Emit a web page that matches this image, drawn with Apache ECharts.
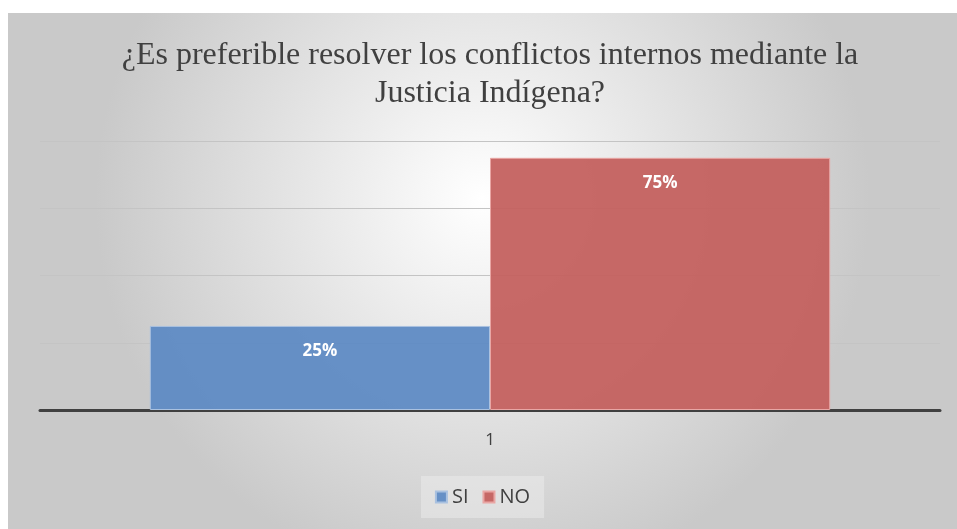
<!DOCTYPE html>
<html>
<head>
<meta charset="utf-8">
<script src="https://cdn.jsdelivr.net/npm/echarts@6/dist/echarts.min.js"></script>
<style>
html,body{margin:0;padding:0;background:#fff;width:957px;height:529px;overflow:hidden;}
#c{position:absolute;left:8px;top:13px;width:949px;height:516px;}
</style>
</head>
<body>
<div id="c"></div>
<script>
var titleText = '¿Es preferible resolver los conflictos internos mediante la\nJusticia Indígena?';
var categories = ['1'];
var seriesNames = ['SI', 'NO'];
var siValues = [25];
var noValues = [75];

var chart = echarts.init(document.getElementById('c'));
var labelFmt = function (p) { return p.value + '%'; };
chart.setOption({
  backgroundColor: {
    type: 'radial', x: 0.5, y: 0.36, r: 0.75,
    colorStops: [{offset: 0, color: '#ffffff'}, {offset: 1, color: '#c9c9c9'}]
  },
  title: {
    text: titleText,
    left: 477, top: 19,
    textAlign: 'center',
    textStyle: {fontFamily: 'Liberation Serif', fontSize: 32, fontWeight: 'normal', color: '#404040', lineHeight: 38}
  },
  legend: {
    data: seriesNames,
    bottom: 11, left: 'center',
    itemWidth: 11, itemHeight: 11, itemGap: 14,
    padding: [11, 14],
    backgroundColor: 'rgba(240,240,240,0.45)',
    textStyle: {fontFamily: 'Open Sans', fontSize: 20, color: '#404040', padding: [0, 0, 0, 0]},
    icon: 'rect'
  },
  grid: {left: 32, right: 17, top: 128, bottom: 119, containLabel: false},
  xAxis: {
    type: 'category', data: categories,
    axisLine: {lineStyle: {color: '#404040', width: 3}},
    axisTick: {show: false},
    axisLabel: {fontFamily: 'Open Sans', fontSize: 17, color: '#404040', margin: 22}
  },
  yAxis: {
    type: 'value', min: 0, max: 80, interval: 20,
    axisLabel: {show: false},
    axisLine: {show: false}, axisTick: {show: false},
    splitLine: {lineStyle: {color: '#c4c4c4', width: 1}}
  },
  series: [
    {
      name: seriesNames[0], type: 'bar', data: siValues,
      barGap: '0%', barCategoryGap: '24.4%',
      itemStyle: {color: 'rgba(94,138,196,0.94)', borderColor: '#a9c1e0', borderWidth: 1},
      label: {show: true, position: 'insideTop', distance: 17, formatter: labelFmt,
        fontFamily: 'Open Sans', fontWeight: 'bold', fontSize: 17, color: '#ffffff'}
    },
    {
      name: seriesNames[1], type: 'bar', data: noValues,
      barGap: '0%', barCategoryGap: '24.4%',
      itemStyle: {color: 'rgba(196,96,94,0.94)', borderColor: '#e9a6a4', borderWidth: 1},
      label: {show: true, position: 'insideTop', distance: 17, formatter: labelFmt,
        fontFamily: 'Open Sans', fontWeight: 'bold', fontSize: 17, color: '#ffffff'}
    }
  ]
});
</script>
</body>
</html>
